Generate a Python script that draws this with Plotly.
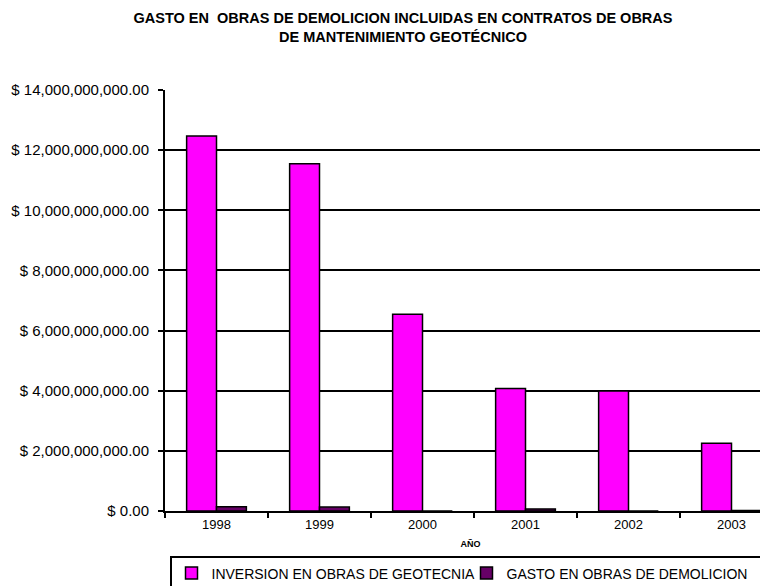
import plotly.graph_objects as go

years = ["1998", "1999", "2000", "2001", "2002", "2003"]
inversion = [12.47e9, 11.55e9, 6.54e9, 4.07e9, 3.99e9, 2.25e9]
gasto = [0.14e9, 0.13e9, 0.0, 0.07e9, 0.0, 0.02e9]
series_names = ["INVERSION EN OBRAS DE GEOTECNIA", "GASTO EN OBRAS DE DEMOLICION"]
title_text = "GASTO EN  OBRAS DE DEMOLICION INCLUIDAS EN CONTRATOS DE OBRAS<br>DE MANTENIMIENTO GEOTÉCNICO"
x_title = "AÑO"

FONT = "Liberation Sans, Arial, sans-serif"
W, H = 768, 586
L, R, T, B = 157, 0, 82, 83
CAT_W = 103.0

fig = go.Figure()
fig.add_trace(go.Bar(x=years, y=inversion, name=series_names[0],
                     marker=dict(color="#FF00FF", line=dict(color="black", width=1.5))))
fig.add_trace(go.Bar(x=years, y=gasto, name=series_names[1],
                     marker=dict(color="#660066", line=dict(color="black", width=1.5))))

fig.update_layout(
    width=W, height=H,
    margin=dict(l=L, r=R, t=T, b=B, pad=0),
    paper_bgcolor="white", plot_bgcolor="white",
    font=dict(family=FONT, color="black", size=12),
    barmode="group", bargap=0.42, bargroupgap=0,
    showlegend=True,
    title=dict(text="<b>" + title_text + "</b>", x=395 / W, xanchor="center",
               y=1 - 15 / H, yanchor="top", yref="container",
               font=dict(family=FONT, size=14.5, color="black")),
    legend=dict(orientation="h", xref="container", x=162 / W, xanchor="left",
                yref="container", y=3 / H, yanchor="bottom",
                bordercolor="black", borderwidth=1.5, bgcolor="white",
                font=dict(family=FONT, size=14, color="black"),
                itemwidth=30, tracegroupgap=0, entrywidth=250, entrywidthmode="pixels"),
)

fig.update_xaxes(
    type="category", range=[-0.5, -0.5 + (W - L) / CAT_W],
    showline=True, linecolor="black", linewidth=2,
    ticks="outside", tickson="boundaries", ticklen=5, tickcolor="black", tickwidth=2,
    tickfont=dict(family=FONT, size=13, color="black"),
    showgrid=False,
    title=dict(text="<b>" + x_title + "</b>", font=dict(family=FONT, size=9, color="black"), standoff=10),
)
fig.update_yaxes(
    range=[0, 14e9], dtick=2e9, tick0=0,
    tickprefix="$ ", tickformat=",.2f",
    showline=True, linecolor="black", linewidth=2,
    ticks="outside", ticklen=5, tickcolor="black", tickwidth=2,
    ticklabelstandoff=6,
    tickfont=dict(family=FONT, size=15, color="black"),
    showgrid=True, gridcolor="black", gridwidth=1.5,
    zeroline=False,
)

fig.write_html("out.html")
